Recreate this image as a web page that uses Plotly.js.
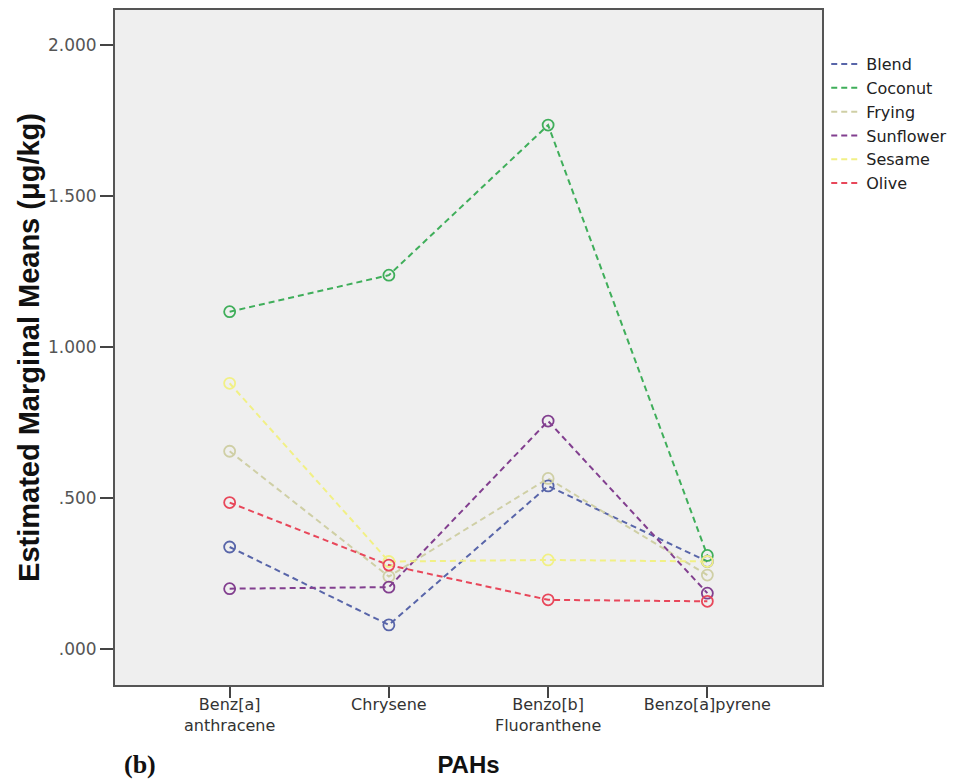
<!DOCTYPE html>
<html>
<head>
<meta charset="utf-8">
<script src="https://cdn.plot.ly/plotly-3.0.1.min.js"></script>
<style>html,body{margin:0;padding:0;background:#fff;}#chart{width:962px;height:783px;}</style>
</head>
<body>
<div id="chart"></div>
<script>
const categories = ["Benz[a]<br>anthracene", "Chrysene", "Benzo[b]<br>Fluoranthene", "Benzo[a]pyrene"];
const seriesNames = ["Blend", "Coconut", "Frying", "Sunflower", "Sesame", "Olive"];
const blend     = [0.338, 0.080, 0.540, 0.290];
const coconut   = [1.117, 1.238, 1.735, 0.310];
const frying    = [0.655, 0.240, 0.565, 0.245];
const sunflower = [0.200, 0.205, 0.755, 0.185];
const sesame    = [0.880, 0.290, 0.295, 0.290];
const olive     = [0.485, 0.278, 0.163, 0.158];
const yTickVals = [0, 0.5, 1, 1.5, 2];
const yTickText = [".000", ".500", "1.000", "1.500", "2.000"];

const seriesValues = [blend, coconut, frying, sunflower, sesame, olive];
const colors = ["#5865a9", "#3fae5a", "#cfcfa5", "#823f8f", "#f1f085", "#e8475a"];

const lineTraces = seriesNames.map((name, i) => ({
  type: "scatter",
  mode: "lines",
  name: name,
  legendgroup: name,
  x: categories,
  y: seriesValues[i],
  line: {color: colors[i], width: 2, dash: "6px,4px"}
}));
const markerTraces = seriesNames.map((name, i) => ({
  type: "scatter",
  mode: "markers",
  name: name,
  legendgroup: name,
  showlegend: false,
  x: categories,
  y: seriesValues[i],
  marker: {symbol: "circle-open", size: 11, color: colors[i], line: {width: 1.8, color: colors[i]}}
}));

const tickFont = "DejaVu Sans, Liberation Sans, Arial, sans-serif";
const layout = {
  width: 962, height: 783,
  margin: {l: 115, r: 138, t: 10, b: 98},
  paper_bgcolor: "#ffffff",
  plot_bgcolor: "#efefef",
  font: {family: "Liberation Sans, Arial, sans-serif", color: "#333"},
  showlegend: true,
  legend: {
    x: 1.006, xanchor: "left", y: 0.945, yanchor: "top",
    bgcolor: "rgba(0,0,0,0)", borderwidth: 0,
    font: {size: 16, color: "#222", family: tickFont},
    tracegroupgap: 0, itemwidth: 30
  },
  xaxis: {
    type: "category",
    range: [-0.72, 3.72],
    showgrid: false, zeroline: false,
    showline: true, mirror: true, linecolor: "#555", linewidth: 2,
    ticks: "outside", ticklen: 11, tickwidth: 2, tickcolor: "#444",
    ticklabelstandoff: -7,
    tickfont: {size: 16, color: "#333", family: tickFont},
    title: {text: "PAHs", font: {size: 24, color: "#111", family: "Liberation Sans, Arial, sans-serif", weight: "bold"}, standoff: 22}
  },
  yaxis: {
    range: [-0.119, 2.116],
    tickvals: yTickVals, ticktext: yTickText,
    showgrid: false, zeroline: false,
    showline: true, mirror: true, linecolor: "#555", linewidth: 2,
    ticks: "outside", ticklen: 13, tickwidth: 2, tickcolor: "#444",
    tickfont: {size: 17, color: "#555", family: tickFont},
    title: {text: "Estimated Marginal Means (μg/kg)", font: {size: 29, color: "#111", family: "Liberation Sans, Arial, sans-serif", weight: "bold"}, standoff: 0}
  },
  annotations: [{
    text: "<b>(b)</b>", xref: "paper", yref: "paper",
    x: 0.035, y: -0.118, xanchor: "center", yanchor: "middle",
    showarrow: false, font: {family: "Liberation Serif, Times New Roman, serif", size: 26, color: "#111"}
  }]
};

Plotly.newPlot("chart", lineTraces.concat(markerTraces), layout, {displayModeBar: false, staticPlot: true});
</script>
</body>
</html>
